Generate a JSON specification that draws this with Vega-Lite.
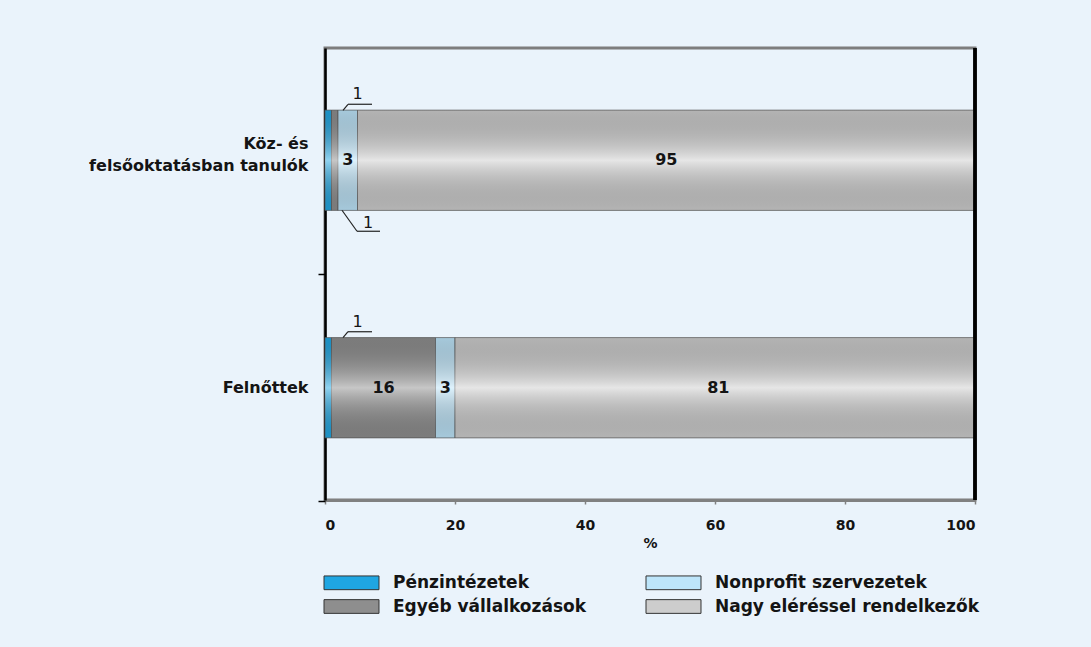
{
  "$schema": "https://vega.github.io/schema/vega-lite/v6.json",
  "width": 650,
  "height": 452,
  "autosize": {"type": "none"},
  "padding": {"left": 325, "top": 48, "right": 116, "bottom": 147},
  "background": "#eaf3fb",
  "config": {
    "font": "DejaVu Sans",
    "view": {"stroke": "#7d7d7d", "strokeWidth": 3}
  },
  "data": {
    "values": [
      {"csoport": "Köz- és felsőoktatásban tanulók", "szektor": "Pénzintézetek", "rang": 1, "ertek": 1},
      {"csoport": "Köz- és felsőoktatásban tanulók", "szektor": "Egyéb vállalkozások", "rang": 2, "ertek": 1},
      {"csoport": "Köz- és felsőoktatásban tanulók", "szektor": "Nonprofit szervezetek", "rang": 3, "ertek": 3},
      {"csoport": "Köz- és felsőoktatásban tanulók", "szektor": "Nagy eléréssel rendelkezők", "rang": 4, "ertek": 95},
      {"csoport": "Felnőttek", "szektor": "Pénzintézetek", "rang": 1, "ertek": 1},
      {"csoport": "Felnőttek", "szektor": "Egyéb vállalkozások", "rang": 2, "ertek": 16},
      {"csoport": "Felnőttek", "szektor": "Nonprofit szervezetek", "rang": 3, "ertek": 3},
      {"csoport": "Felnőttek", "szektor": "Nagy eléréssel rendelkezők", "rang": 4, "ertek": 81}
    ]
  },
  "transform": [
    {"stack": "ertek", "groupby": ["csoport"], "sort": [{"field": "rang"}], "as": ["v0", "v1"]}
  ],
  "layer": [
    {
      "mark": {"type": "bar", "stroke": "#5a5a5a", "strokeWidth": 0.7},
      "encoding": {
        "y": {
          "field": "csoport",
          "type": "nominal",
          "sort": ["Köz- és felsőoktatásban tanulók", "Felnőttek"],
          "scale": {"paddingInner": 0.559, "paddingOuter": 0.273},
          "title": null,
          "axis": {
            "domainColor": "#000000",
            "domainWidth": 2.5,
            "tickColor": "#000000",
            "tickSize": 7,
            "tickWidth": 1.5,
            "tickOffset": 113.75,
            "labelOffset": {"condition": {"test": "datum.value == 'Köz- és felsőoktatásban tanulók'", "value": -130.75}, "value": -113.75},
            "labelFont": "DejaVu Sans",
            "labelFontWeight": "bold",
            "labelFontSize": 16,
            "labelColor": "#141414",
            "labelPadding": 10,
            "labelLineHeight": 22,
            "labelLimit": 400,
            "labelExpr": "datum.value == 'Köz- és felsőoktatásban tanulók' ? ['Köz- és', 'felsőoktatásban tanulók'] : datum.label"
          }
        },
        "x": {
          "field": "v0",
          "type": "quantitative",
          "scale": {"domain": [0, 100], "clamp": true, "nice": false},
          "title": "%",
          "axis": {
            "values": [0, 20, 40, 60, 80, 100],
            "grid": false,
            "domainColor": "#808080",
            "domainWidth": 3,
            "tickColor": "#808080",
            "tickSize": 4,
            "tickWidth": 1.5,
            "labelFont": "DejaVu Sans",
            "labelFontWeight": "bold",
            "labelFontSize": 14,
            "labelColor": "#141414",
            "labelPadding": 14,
            "titleFont": "DejaVu Sans",
            "titleFontWeight": "bold",
            "titleFontSize": 14,
            "titleColor": "#141414",
            "titlePadding": 4
          }
        },
        "x2": {"field": "v1"},
        "color": {
          "field": "szektor",
          "type": "nominal",
          "scale": {
            "domain": ["Pénzintézetek", "Egyéb vállalkozások", "Nonprofit szervezetek", "Nagy eléréssel rendelkezők"],
            "range": ["#1fa6e2", "#8e8e8e", "#bde5fa", "#cdcdcd"]
          },
          "legend": {
            "orient": "none",
            "legendX": 12,
            "legendY": 520,
            "columns": 2,
            "title": null,
            "symbolType": "M-2,-0.5H2V0.5H-2Z",
            "symbolSize": 756,
            "symbolStrokeColor": "#333333",
            "symbolStrokeWidth": 1,
            "symbolOpacity": 1,
            "labelFont": "DejaVu Sans",
            "labelFontWeight": "bold",
            "labelFontSize": 17,
            "labelColor": "#141414",
            "labelOffset": 27,
            "labelLimit": 400,
            "columnPadding": 58,
            "rowPadding": 0
          }
        }
      }
    },
    {
      "mark": {
        "type": "bar",
        "fill": {
          "gradient": "linear",
          "x1": 0, "y1": 0, "x2": 0, "y2": 1,
          "stops": [
            {"offset": 0, "color": "rgba(0,0,0,0.12)"},
            {"offset": 0.5, "color": "rgba(255,255,255,0.5)"},
            {"offset": 1, "color": "rgba(0,0,0,0.12)"}
          ]
        },
        "strokeWidth": 0
      },
      "encoding": {
        "y": {"field": "csoport", "type": "nominal", "sort": ["Köz- és felsőoktatásban tanulók", "Felnőttek"]},
        "x": {"field": "v0", "type": "quantitative"},
        "x2": {"field": "v1"}
      }
    },
    {
      "mark": {"type": "text", "font": "DejaVu Sans", "fontWeight": "bold", "fontSize": 16, "color": "#141414"},
      "encoding": {
        "y": {"field": "csoport", "type": "nominal", "sort": ["Köz- és felsőoktatásban tanulók", "Felnőttek"]},
        "x": {"field": "ertek", "type": "quantitative", "stack": "zero", "bandPosition": 0.5},
        "detail": {"field": "szektor"},
        "order": {"field": "rang"},
        "text": {"condition": {"test": "datum.ertek > 1", "field": "ertek"}, "value": ""}
      }
    },
    {
      "transform": [{"filter": "datum.szektor == 'Pénzintézetek'"}],
      "mark": {"type": "rule", "color": "#222222", "strokeWidth": 1.2, "xOffset": 11.5, "x2Offset": 16.5, "yOffset": -50, "y2Offset": -56},
      "encoding": {
        "y": {"field": "csoport", "type": "nominal", "sort": ["Köz- és felsőoktatásban tanulók", "Felnőttek"]},
        "y2": {"field": "csoport"},
        "x": {"field": "v1", "type": "quantitative"},
        "x2": {"field": "v1"}
      }
    },
    {
      "transform": [{"filter": "datum.szektor == 'Pénzintézetek'"}],
      "mark": {"type": "rule", "color": "#222222", "strokeWidth": 1.2, "xOffset": 16.5, "x2Offset": 40.5, "yOffset": -56},
      "encoding": {
        "y": {"field": "csoport", "type": "nominal", "sort": ["Köz- és felsőoktatásban tanulók", "Felnőttek"]},
        "x": {"field": "v1", "type": "quantitative"},
        "x2": {"field": "v1"}
      }
    },
    {
      "transform": [{"filter": "datum.szektor == 'Pénzintézetek'"}],
      "mark": {"type": "text", "font": "DejaVu Sans", "fontSize": 16, "color": "#141414", "dx": 26, "dy": -66},
      "encoding": {
        "y": {"field": "csoport", "type": "nominal", "sort": ["Köz- és felsőoktatásban tanulók", "Felnőttek"]},
        "x": {"field": "v1", "type": "quantitative"},
        "text": {"field": "ertek"}
      }
    },
    {
      "transform": [{"filter": "datum.szektor == 'Egyéb vállalkozások' && datum.ertek <= 1"}],
      "mark": {"type": "rule", "color": "#222222", "strokeWidth": 1.2, "xOffset": 4, "x2Offset": 19, "yOffset": 50, "y2Offset": 71},
      "encoding": {
        "y": {"field": "csoport", "type": "nominal", "sort": ["Köz- és felsőoktatásban tanulók", "Felnőttek"]},
        "y2": {"field": "csoport"},
        "x": {"field": "v1", "type": "quantitative"},
        "x2": {"field": "v1"}
      }
    },
    {
      "transform": [{"filter": "datum.szektor == 'Egyéb vállalkozások' && datum.ertek <= 1"}],
      "mark": {"type": "rule", "color": "#222222", "strokeWidth": 1.2, "xOffset": 19, "x2Offset": 42, "yOffset": 71},
      "encoding": {
        "y": {"field": "csoport", "type": "nominal", "sort": ["Köz- és felsőoktatásban tanulók", "Felnőttek"]},
        "x": {"field": "v1", "type": "quantitative"},
        "x2": {"field": "v1"}
      }
    },
    {
      "transform": [{"filter": "datum.szektor == 'Egyéb vállalkozások' && datum.ertek <= 1"}],
      "mark": {"type": "text", "font": "DejaVu Sans", "fontSize": 16, "color": "#141414", "dx": 30, "dy": 63},
      "encoding": {
        "y": {"field": "csoport", "type": "nominal", "sort": ["Köz- és felsőoktatásban tanulók", "Felnőttek"]},
        "x": {"field": "v1", "type": "quantitative"},
        "text": {"field": "ertek"}
      }
    },
    {
      "mark": {"type": "rule", "color": "#000000", "strokeWidth": 2.5},
      "encoding": {"x": {"datum": 100}}
    }
  ]
}
